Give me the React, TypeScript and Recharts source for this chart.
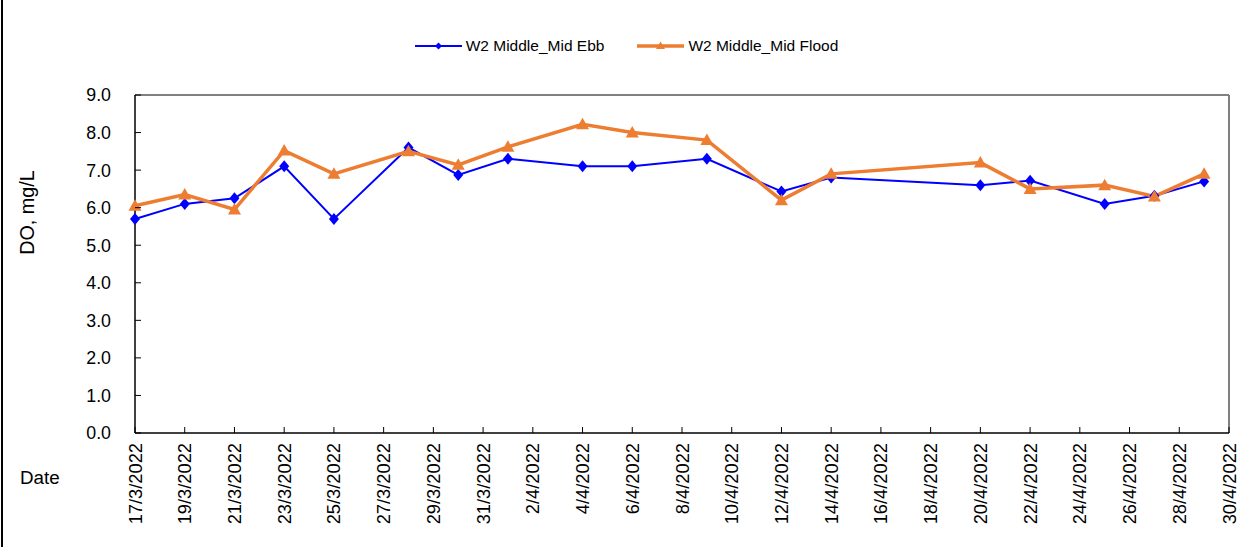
import React from 'react';
import { LineChart, Line, XAxis, YAxis, Legend, ReferenceLine } from 'recharts';

const sampleDates = [
  '17/3/2022', '19/3/2022', '21/3/2022', '23/3/2022', '25/3/2022', '28/3/2022',
  '30/3/2022', '1/4/2022', '4/4/2022', '6/4/2022', '9/4/2022', '12/4/2022',
  '14/4/2022', '20/4/2022', '22/4/2022', '25/4/2022', '27/4/2022', '29/4/2022',
];
const ebbValues = [5.7, 6.1, 6.25, 7.1, 5.7, 7.6, 6.87, 7.3, 7.1, 7.1, 7.3, 6.43, 6.8, 6.6, 6.72, 6.1, 6.32, 6.7];
const floodValues = [6.05, 6.35, 5.95, 7.52, 6.9, 7.5, 7.14, 7.62, 8.22, 8.0, 7.8, 6.2, 6.9, 7.2, 6.5, 6.6, 6.3, 6.9];

const tickDates = [
  '17/3/2022', '19/3/2022', '21/3/2022', '23/3/2022', '25/3/2022', '27/3/2022',
  '29/3/2022', '31/3/2022', '2/4/2022', '4/4/2022', '6/4/2022', '8/4/2022',
  '10/4/2022', '12/4/2022', '14/4/2022', '16/4/2022', '18/4/2022', '20/4/2022',
  '22/4/2022', '24/4/2022', '26/4/2022', '28/4/2022', '30/4/2022',
];
const yTicks = [0, 1, 2, 3, 4, 5, 6, 7, 8, 9];

const FONT = '"Liberation Sans", Arial, sans-serif';
const BLUE = '#0000FF';
const ORANGE = '#ED7D31';

const toDay = (s: string) => {
  const [d, m, y] = s.split('/').map(Number);
  return Date.UTC(y, m - 1, d) / 86400000;
};
const origin = toDay(tickDates[0]);
const dayOf = (s: string) => toDay(s) - origin;
const labelOf = (n: number) => {
  const dt = new Date((origin + n) * 86400000);
  return `${dt.getUTCDate()}/${dt.getUTCMonth() + 1}/${dt.getUTCFullYear()}`;
};

const data = sampleDates.map((s, i) => ({ day: dayOf(s), ebb: ebbValues[i], flood: floodValues[i] }));
const xTicks = tickDates.map(dayOf);
const lastDay = xTicks[xTicks.length - 1];

const Diamond = (props: any) => {
  const { cx, cy } = props;
  if (cx == null || cy == null) return null;
  return <path d={`M${cx},${cy - 6}L${cx + 5},${cy}L${cx},${cy + 6}L${cx - 5},${cy}Z`} fill={BLUE} />;
};

const Triangle = (props: any) => {
  const { cx, cy } = props;
  if (cx == null || cy == null) return null;
  return <path d={`M${cx},${cy - 6.5}L${cx + 6.5},${cy + 5}L${cx - 6.5},${cy + 5}Z`} fill={ORANGE} />;
};

// ticks point inward, like the spreadsheet chart
const DateTick = (props: any) => {
  const { x, y, payload } = props;
  return (
    <g>
      <line x1={x} y1={y} x2={x} y2={y - 6} stroke="#000" strokeWidth={1} />
      <text
        transform={`translate(${x + 6.5},${y + 10}) rotate(-90)`}
        textAnchor="end"
        fontSize={18.3}
        fontFamily={FONT}
        fill="#000"
      >
        {labelOf(payload.value)}
      </text>
    </g>
  );
};

const ValueTick = (props: any) => {
  const { x, y, payload } = props;
  return (
    <g>
      <line x1={x} y1={y} x2={x + 6} y2={y} stroke="#000" strokeWidth={1} />
      <text x={x - 24} y={y} dy="0.36em" textAnchor="end" fontSize={17.8} fontFamily={FONT} fill="#000">
        {payload.value.toFixed(1)}
      </text>
    </g>
  );
};

const LegendContent = () => (
  <div
    style={{
      display: 'flex',
      justifyContent: 'center',
      alignItems: 'center',
      paddingLeft: 12,
      fontFamily: FONT,
      fontSize: 15.5,
      color: '#000',
    }}
  >
    <svg width={47} height={14}>
      <line x1={0} y1={7} x2={47} y2={7} stroke={BLUE} strokeWidth={2} />
      <path d="M23.5,3.5L27,7L23.5,10.5L20,7Z" fill={BLUE} />
    </svg>
    <span style={{ marginLeft: 4, marginRight: 33 }}>W2 Middle_Mid Ebb</span>
    <svg width={47} height={14}>
      <line x1={0} y1={7} x2={47} y2={7} stroke={ORANGE} strokeWidth={3.5} />
      <path d="M23.5,2.5L28,10L19,10Z" fill={ORANGE} />
    </svg>
    <span style={{ marginLeft: 4 }}>W2 Middle_Mid Flood</span>
  </div>
);

const App: React.FC = () => {
  return (
    <div style={{ position: 'absolute', left: 0, top: 0, width: 1241, height: 547, background: '#fff' }}>
      <div style={{ position: 'absolute', left: 1, top: 0, width: 2, height: 547, background: '#000' }} />
      <LineChart width={1241} height={547} data={data} margin={{ top: 95, right: 12, bottom: 0, left: 0 }}>
        <XAxis
          type="number"
          dataKey="day"
          domain={[0, lastDay]}
          ticks={xTicks}
          interval={0}
          height={114}
          tickSize={0}
          tickMargin={0}
          tick={<DateTick />}
          tickLine={false}
          axisLine={{ stroke: '#000', strokeWidth: 1.5 }}
          label={{
            content: () => (
              <text x={20} y={483.5} fontSize={18.8} fontFamily={FONT} fill="#000">
                Date
              </text>
            ),
          }}
        />
        <YAxis
          type="number"
          domain={[0, 9]}
          ticks={yTicks}
          interval={0}
          width={135}
          tickSize={0}
          tickMargin={0}
          tick={<ValueTick />}
          tickLine={false}
          axisLine={{ stroke: '#000', strokeWidth: 1.5 }}
          label={{
            content: () => (
              <text
                transform="translate(33.5,212.5) rotate(-90)"
                textAnchor="middle"
                fontSize={19.8}
                fontFamily={FONT}
                fill="#000"
              >
                DO, mg/L
              </text>
            ),
          }}
        />
        <ReferenceLine y={9} stroke="#808080" strokeWidth={2} />
        <ReferenceLine x={lastDay} stroke="#808080" strokeWidth={2} />
        <Legend
          verticalAlign="middle"
          align="center"
          content={<LegendContent />}
          wrapperStyle={{ top: 37, left: 0, width: 1241 }}
        />
        <Line
          type="linear"
          dataKey="ebb"
          name="W2 Middle_Mid Ebb"
          stroke={BLUE}
          strokeWidth={2}
          dot={<Diamond />}
          activeDot={false}
          isAnimationActive={false}
        />
        <Line
          type="linear"
          dataKey="flood"
          name="W2 Middle_Mid Flood"
          stroke={ORANGE}
          strokeWidth={3.5}
          dot={<Triangle />}
          activeDot={false}
          isAnimationActive={false}
        />
      </LineChart>
    </div>
  );
};

export default App;
